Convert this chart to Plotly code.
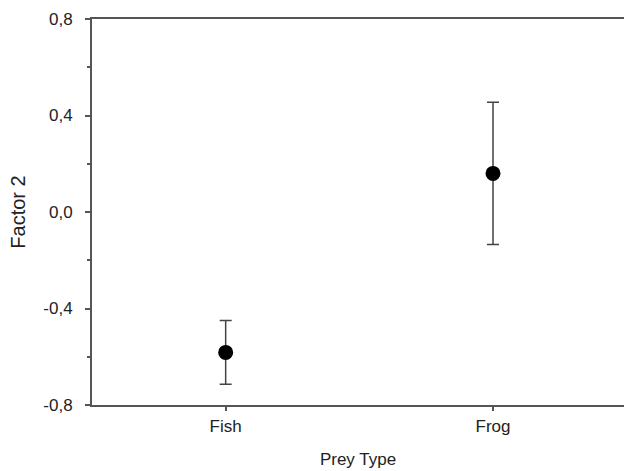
import plotly.graph_objects as go

categories = ["Fish", "Frog"]
means = [-0.582, 0.160]
errors = [0.132, 0.295]
yticks = [-0.8, -0.4, 0.0, 0.4, 0.8]
ytick_labels = ["-0,8", "-0,4", "0,0", "0,4", "0,8"]

fig = go.Figure()
fig.add_trace(go.Scatter(
    x=[0, 1], y=means, mode="markers",
    marker=dict(color="black", size=15),
    error_y=dict(type="data", array=errors, visible=True, color="#444444", thickness=1.5, width=6),
    showlegend=False,
))

fig.update_layout(
    width=624, height=471,
    margin=dict(l=92, r=0, t=19, b=66),
    plot_bgcolor="white", paper_bgcolor="white",
    font=dict(family="Liberation Sans, Arial, sans-serif", size=18, color="#222222"),
    xaxis=dict(
        range=[-0.5, 1.49], tickmode="array", tickvals=[0, 1], ticktext=categories,
        showline=True, linecolor="#555555", linewidth=2, mirror=True,
        ticks="outside", ticklen=4, tickcolor="#555555", tickwidth=1.5,
        tickfont=dict(size=17), ticklabelstandoff=1,
        showgrid=False, zeroline=False, automargin=False,
        title=dict(text="Prey Type", font=dict(size=17), standoff=18),
    ),
    yaxis=dict(
        range=[-0.8, 0.8], tickmode="array", tickvals=yticks, ticktext=ytick_labels,
        showline=True, linecolor="#555555", linewidth=2,
        ticks="outside", ticklen=5, tickcolor="#555555", tickwidth=1.5,
        tickfont=dict(size=17), ticklabelstandoff=9,
        minor=dict(tickvals=[-0.6, -0.2, 0.2, 0.6], ticks="outside", ticklen=3, tickcolor="#555555", tickwidth=1.5),
        showgrid=False, zeroline=False, automargin=False,
        title=dict(text="Factor 2", font=dict(size=20), standoff=12),
    ),
)

fig.write_html("out.html")
